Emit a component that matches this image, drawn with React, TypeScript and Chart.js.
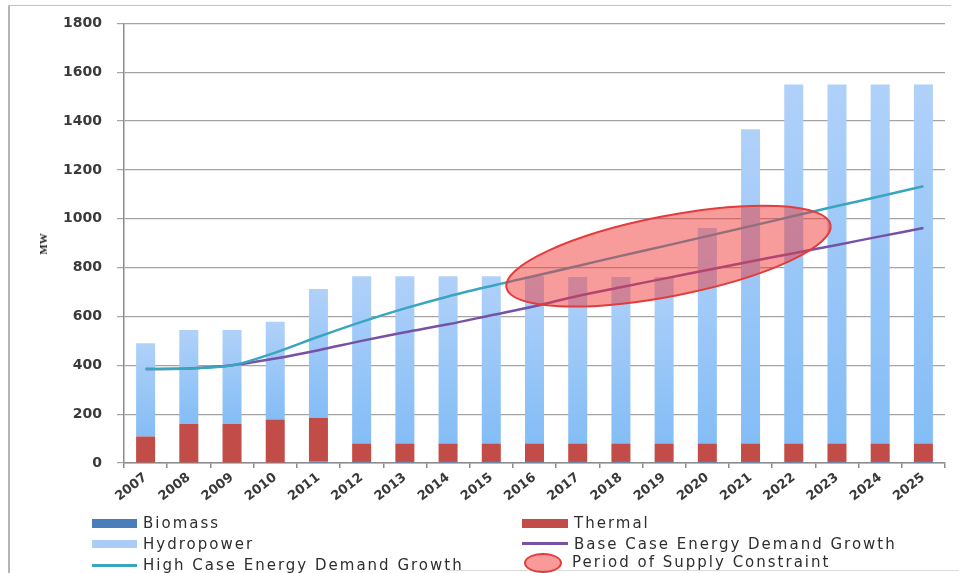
import React, { useEffect, useRef } from "react";
import { Chart, registerables } from "chart.js";

Chart.register(...registerables);

// ---------- data ----------
const years = ["2007", "2008", "2009", "2010", "2011", "2012", "2013", "2014", "2015", "2016", "2017", "2018", "2019", "2020", "2021", "2022", "2023", "2024", "2025"];
const biomass = [0, 0, 0, 0, 6, 8, 8, 8, 8, 8, 8, 8, 8, 8, 8, 8, 8, 8, 8];
const thermal = [108, 160, 160, 178, 178, 72, 72, 72, 72, 72, 72, 72, 72, 72, 72, 72, 72, 72, 72];
const hydropower = [382, 385, 385, 400, 528, 685, 685, 685, 685, 685, 682, 682, 682, 882, 1287, 1470, 1470, 1470, 1470];
const highCase = [385, 387, 400, 452, 517, 578, 633, 682, 725, 766, 807, 848, 888, 929, 970, 1011, 1052, 1092, 1133];
const baseCase = [385, 387, 400, 428, 462, 500, 535, 568, 605, 642, 684, 720, 755, 790, 825, 859, 893, 928, 962];
const yMin = 0;
const yMax = 1800;
const yStep = 200;
// period of supply constraint (ellipse): centre in category index / MW, half sizes, tilt
const constraintCenterIndex = 12.1;
const constraintCenterValue = 847;
const constraintHalfSpanCategories = 3.82;
const constraintHalfThicknessMW = 164;
const constraintTiltDeg = 11;

const FONT = "'DejaVu Sans', sans-serif";
const TEXT = "#3a3a3a";

const ellipsePlugin = {
  id: "constraintEllipse",
  afterDatasetsDraw(chart: any) {
    const xs = chart.scales.x;
    const ys = chart.scales.y;
    const ctx = chart.ctx;
    const x0 = xs.getPixelForValue(0);
    const step = xs.getPixelForValue(1) - x0;
    const cx = x0 + step * constraintCenterIndex;
    const cy = ys.getPixelForValue(constraintCenterValue);
    const rx = step * constraintHalfSpanCategories;
    const ry = Math.abs(ys.getPixelForValue(0) - ys.getPixelForValue(constraintHalfThicknessMW));
    ctx.save();
    ctx.beginPath();
    ctx.ellipse(cx, cy, rx, ry, (-constraintTiltDeg * Math.PI) / 180, 0, Math.PI * 2);
    ctx.fillStyle = "rgba(240,55,55,0.5)";
    ctx.fill();
    ctx.lineWidth = 2;
    ctx.strokeStyle = "#e23c3c";
    ctx.stroke();
    ctx.restore();
  },
};

function hydroFill(c: any) {
  const chart = c.chart;
  const ys = chart.scales && chart.scales.y;
  if (!chart.chartArea || !ys || c.dataIndex === undefined) return "#95c4f6";
  const i = c.dataIndex;
  const base = biomass[i] + thermal[i];
  const top = base + hydropower[i];
  const yTop = ys.getPixelForValue(top);
  const yBot = ys.getPixelForValue(base);
  const g = chart.ctx.createLinearGradient(0, yTop, 0, yBot);
  g.addColorStop(0, "rgb(176,209,249)");
  g.addColorStop(1, "rgb(132,189,246)");
  return g;
}

export default function App() {
  const ref = useRef<HTMLCanvasElement>(null);

  useEffect(() => {
    if (!ref.current) return;
    const chart = new Chart(ref.current, {
      type: "bar",
      data: {
        labels: years,
        datasets: [
          { type: "line", label: "High Case Energy Demand Growth", data: highCase, borderColor: "#3aa5bf", borderWidth: 2.5, pointRadius: 0, tension: 0.3, fill: false, stack: "high", order: 0 } as any,
          { type: "line", label: "Base Case Energy Demand Growth", data: baseCase, borderColor: "#7652a6", borderWidth: 2.5, pointRadius: 0, tension: 0.3, fill: false, stack: "base", order: 1 } as any,
          { label: "Biomass", data: biomass, backgroundColor: "#4a7ebb", stack: "s", order: 5, barPercentage: 0.44, categoryPercentage: 1 },
          { label: "Thermal", data: thermal, backgroundColor: "#c24c47", stack: "s", order: 5, barPercentage: 0.44, categoryPercentage: 1 },
          { label: "Hydropower", data: hydropower, backgroundColor: hydroFill as any, stack: "s", order: 5, barPercentage: 0.44, categoryPercentage: 1 },
        ],
      },
      options: {
        responsive: false,
        maintainAspectRatio: false,
        animation: false,
        layout: { padding: { top: 23, left: 0, right: 14, bottom: 60 } },
        plugins: { legend: { display: false }, tooltip: { enabled: false }, title: { display: false } },
        scales: {
          x: {
            stacked: true,
            offset: true,
            border: { display: true, color: "#8c8c8c", width: 1.5 },
            grid: { display: true, drawOnChartArea: false, offset: true, tickLength: 5, color: "#8c8c8c", lineWidth: 1.5 },
            ticks: { autoSkip: false, minRotation: 38, maxRotation: 38, padding: 2, color: TEXT, font: { family: FONT, size: 13, weight: "bold" } },
            afterFit(scale: any) {
              scale.height = 50;
            },
          },
          y: {
            stacked: true,
            min: yMin,
            max: yMax,
            border: { display: true, color: "#8c8c8c", width: 1.5 },
            grid: { color: "#a4a4a4", lineWidth: 1.2, tickLength: 7 },
            ticks: {
              stepSize: yStep,
              padding: 15,
              color: TEXT,
              font: { family: FONT, size: 14, weight: "bold" },
              callback: (v: any) => String(v),
            },
            afterFit(scale: any) {
              scale.width = 124;
            },
          },
        },
      },
      plugins: [ellipsePlugin],
    });
    return () => chart.destroy();
  }, []);

  const legendText: React.CSSProperties = {
    position: "absolute",
    fontFamily: FONT,
    fontSize: 15,
    letterSpacing: "2px",
    color: "#2e2e2e",
    lineHeight: "18px",
    whiteSpace: "nowrap",
  };
  const rows = [523, 543.5, 565];

  return (
    <div style={{ position: "absolute", left: 0, top: 0, width: 959, height: 573, background: "#fff", overflow: "hidden" }}>
      <div style={{ position: "absolute", left: 8, top: 5, width: 2, height: 568, background: "#b4b4b4" }} />
      <div style={{ position: "absolute", left: 8, top: 5, width: 943, height: 1, background: "#c4c4c4" }} />
      <div style={{ position: "absolute", left: 447, top: 570, width: 512, height: 1, background: "#dcdcdc" }} />
      <canvas ref={ref} width={959} height={573} style={{ position: "absolute", left: 0, top: 0 }} />
      <div
        style={{
          position: "absolute",
          left: 43,
          top: 244,
          transform: "translate(-50%,-50%) rotate(-90deg)",
          fontFamily: "'Liberation Serif', 'Times New Roman', serif",
          fontWeight: "bold",
          fontSize: 11,
          color: "#1e1e1e",
          whiteSpace: "nowrap",
        }}
      >
        MW
      </div>

      {/* legend, column 1 */}
      <div style={{ position: "absolute", left: 92, top: rows[0] - 4.5, width: 45, height: 9, background: "#4a7ebb" }} />
      <div style={{ ...legendText, left: 143, top: rows[0] - 9 }}>Biomass</div>
      <div style={{ position: "absolute", left: 92, top: rows[1] - 4, width: 45, height: 8, background: "#a9cdf7" }} />
      <div style={{ ...legendText, left: 143, top: rows[1] - 9 }}>Hydropower</div>
      <div style={{ position: "absolute", left: 92, top: rows[2] - 1.5, width: 45, height: 3, background: "#3aa5bf" }} />
      <div style={{ ...legendText, left: 143, top: rows[2] - 9 }}>High Case Energy Demand Growth</div>

      {/* legend, column 2 */}
      <div style={{ position: "absolute", left: 522, top: rows[0] - 4.5, width: 46, height: 9, background: "#c24c47" }} />
      <div style={{ ...legendText, left: 574, top: rows[0] - 9 }}>Thermal</div>
      <div style={{ position: "absolute", left: 522, top: rows[1] - 1.5, width: 46, height: 3, background: "#7652a6" }} />
      <div style={{ ...legendText, left: 574, top: rows[1] - 9 }}>Base Case Energy Demand Growth</div>
      <div
        style={{
          position: "absolute",
          left: 524,
          top: rows[2] - 12,
          width: 34,
          height: 16,
          borderRadius: "50%",
          background: "rgba(245,120,120,0.75)",
          border: "2px solid #e23c3c",
        }}
      />
      <div style={{ ...legendText, left: 572, top: rows[2] - 12 }}>Period of Supply Constraint</div>
    </div>
  );
}
